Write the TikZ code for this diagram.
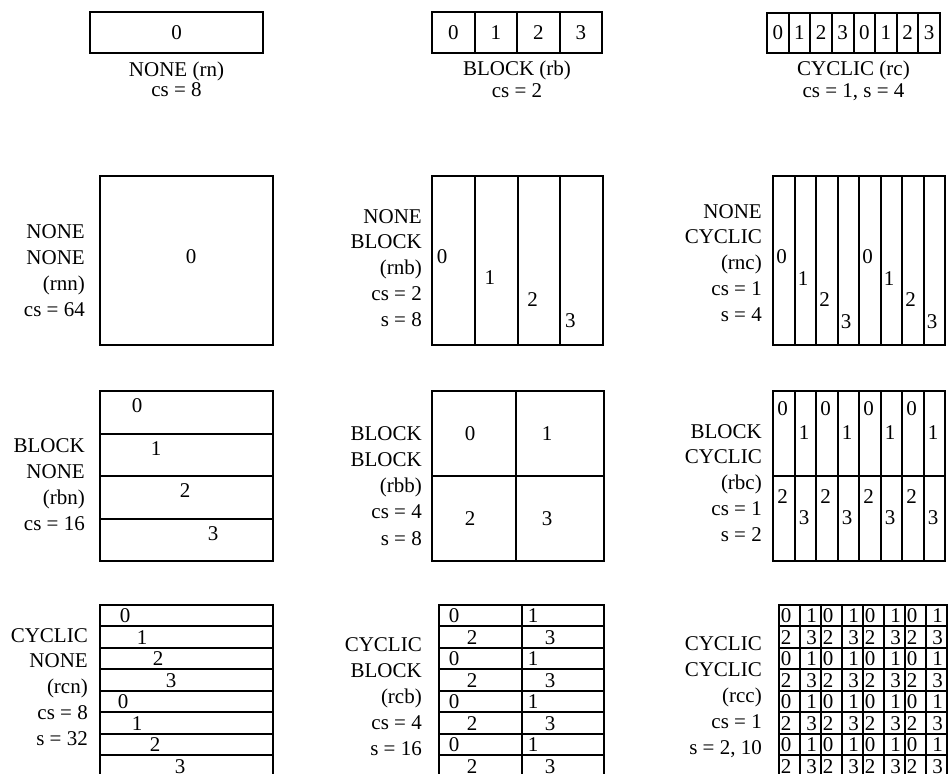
\documentclass[tikz,border=0pt]{standalone}
\usepackage{fontspec}
\setmainfont{Liberation Serif}
\newcommand{\distfont}{\fontsize{21}{26}\selectfont}

\begin{document}
\begin{tikzpicture}[x=1pt,y=-1pt,
  cell/.style={draw=black,line width=2pt},
  digit/.style={inner sep=0pt,font=\distfont},
  lbl/.style={anchor=base east,inner sep=0pt,font=\distfont},
  caption/.style={anchor=base,inner sep=0pt,font=\distfont}
]
\useasboundingbox (0,0) rectangle (951,774);
\clip (0,0) rectangle (951,774);

% one-dimensional arrays
\draw[cell] (90,12) rectangle (263,53);
\node[digit] (rn-0) at (176.5,32.5) {0};
\node[caption] (rn-name) at (176.5,76) {NONE (rn)};
\node[caption] (rn-cs) at (176.5,96) {cs = 8};

\foreach \i in {0,...,3} {
  \draw[cell] ({432+42.5*\i},12) rectangle ++(42.5,41);
  \node[digit] (rb-\i) at ({453.25+42.5*\i},32.5) {\i};
}
\node[caption] (rb-name) at (517,75) {BLOCK (rb)};
\node[caption] (rb-cs) at (517,97) {cs = 2};

\foreach \i in {0,...,7} {
  \pgfmathtruncatemacro\d{mod(\i,4)}
  \draw[cell] ({767+21.625*\i},13) rectangle ++(21.625,40);
  \node[digit] (rc-\i) at ({777.8+21.625*\i},33) {\d};
}
\node[caption] (rc-name) at (853.5,75) {CYCLIC (rc)};
\node[caption] (rc-cs) at (853.5,97) {cs = 1, s = 4};

% rows NONE
\draw[cell] (100,176) rectangle (273,345);
\node[digit] (rnn-0) at (191,257) {0};
\foreach \t [count=\k from 0] in {NONE,NONE,(rnn),cs = 64}
  \node[lbl] (rnn-l\k) at (85,{238+26.3*\k}) {\t};

\foreach \i/\dx/\y in {0/10/257,1/15/278,2/15/300,3/10/321} {
  \draw[cell] ({432+42.75*\i},176) rectangle ++(42.75,169);
  \node[digit] (rnb-\i) at ({432+42.75*\i+\dx},\y) {\i};
}
\foreach \t [count=\k from 0] in {NONE,BLOCK,(rnb),cs = 2,s = 8}
  \node[lbl] (rnb-l\k) at (422,{223+25.9*\k}) {\t};

\foreach \i in {0,...,7} {
  \pgfmathtruncatemacro\d{mod(\i,4)}
  \draw[cell] ({773+21.5*\i},176) rectangle ++(21.5,169);
  \node[digit] (rnc-\i) at ({781.5+21.5*\i},{257+21.5*\d}) {\d};
}
\foreach \t [count=\k from 0] in {NONE,CYCLIC,(rnc),cs = 1,s = 4}
  \node[lbl] (rnc-l\k) at (762,{218+25.9*\k}) {\t};

% rows BLOCK
\foreach \i/\x in {0/137,1/156,2/185,3/213} {
  \draw[cell] (100,{391+42.5*\i}) rectangle ++(173,42.5);
  \node[digit] (rbn-\i) at (\x,{406+42.5*\i}) {\i};
}
\foreach \t [count=\k from 0] in {BLOCK,NONE,(rbn),cs = 16}
  \node[lbl] (rbn-l\k) at (85,{452+26*\k}) {\t};

\draw[cell] (432,391) rectangle (516,476);
\draw[cell] (516,391) rectangle (604,476);
\draw[cell] (432,476) rectangle (516,561);
\draw[cell] (516,476) rectangle (604,561);
\node[digit] (rbb-0) at (470,433.5) {0};
\node[digit] (rbb-1) at (547,433.5) {1};
\node[digit] (rbb-2) at (470,518.5) {2};
\node[digit] (rbb-3) at (547,518.5) {3};
\foreach \t [count=\k from 0] in {BLOCK,BLOCK,(rbb),cs = 4,s = 8}
  \node[lbl] (rbb-l\k) at (422,{440+26.25*\k}) {\t};

\foreach \i in {0,...,7} {
  \pgfmathtruncatemacro\j{mod(\i,2)}
  \pgfmathtruncatemacro\b{2+\j}
  \draw[cell] ({773+21.5*\i},391) rectangle ++(21.5,85);
  \draw[cell] ({773+21.5*\i},476) rectangle ++(21.5,85);
  \node[digit] (rbc-t\i) at ({782.5+21.5*\i},{409+24*\j}) {\j};
  \node[digit] (rbc-b\i) at ({782.5+21.5*\i},{497+21*\j}) {\b};
}
\foreach \t [count=\k from 0] in {BLOCK,CYCLIC,(rbc),cs = 1,s = 2}
  \node[lbl] (rbc-l\k) at (762,{438+25.8*\k}) {\t};

% rows CYCLIC
\foreach \i/\x in {0/125,1/142,2/158,3/171,4/123,5/137,6/155,7/180} {
  \pgfmathtruncatemacro\d{mod(\i,4)}
  \draw[cell] (100,{605+21.45*\i}) rectangle ++(173,21.45);
  \node[digit] (rcn-\i) at (\x,{616+21.45*\i}) {\d};
}
\foreach \t [count=\k from 0] in {CYCLIC,NONE,(rcn),cs = 8,s = 32}
  \node[lbl] (rcn-l\k) at (88,{642+25.75*\k}) {\t};

\foreach \i in {0,...,7} {
  \pgfmathtruncatemacro\j{mod(\i,2)}
  \pgfmathtruncatemacro\a{2*\j}
  \pgfmathtruncatemacro\b{2*\j+1}
  \draw[cell] (439,{605+21.45*\i}) rectangle ++(83,21.45);
  \draw[cell] (522,{605+21.45*\i}) rectangle ++(82,21.45);
  \node[digit] (rcb-l\i) at ({454+18*\j},{616+21.45*\i}) {\a};
  \node[digit] (rcb-r\i) at ({533+17*\j},{616+21.45*\i}) {\b};
}
\foreach \t [count=\k from 0] in {CYCLIC,BLOCK,(rcb),cs = 4,s = 16}
  \node[lbl] (rcb-l\k) at (422,{651+26*\k}) {\t};

\foreach \r in {0,...,7} {
  \foreach \c in {0,...,7} {
    \pgfmathtruncatemacro\j{mod(\c,2)}
    \pgfmathtruncatemacro\d{2*mod(\r,2)+\j}
    \draw[cell] ({779+21*\c},{605+21.45*\r}) rectangle ++(21,21.45);
    \node[digit] (rcc-\r-\c) at ({786+21*\c+4.5*\j},{616+21.45*\r}) {\d};
  }
}
\foreach \t [count=\k from 0] in {CYCLIC,CYCLIC,(rcc),cs = 1,{s = 2, 10}}
  \node[lbl] (rcc-l\k) at (762,{650+26.2*\k}) {\t};
\end{tikzpicture}
\end{document}
